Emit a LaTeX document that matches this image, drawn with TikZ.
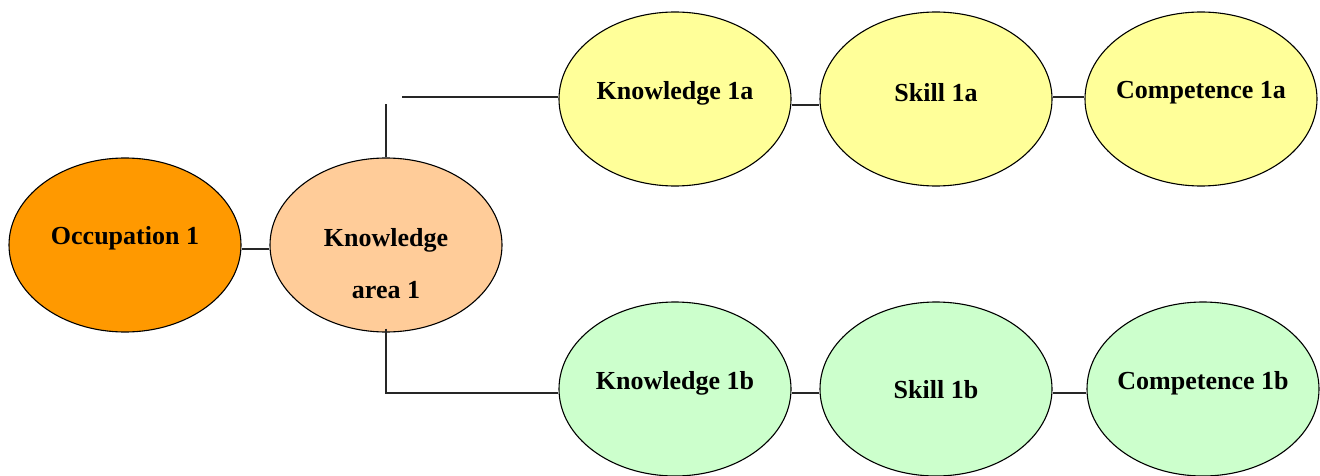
\documentclass[tikz,border=0pt]{standalone}
\usepackage{fontspec}
\setmainfont{Liberation Serif}
\usetikzlibrary{shapes.geometric}
\definecolor{occfill}{HTML}{FF9900}
\definecolor{kafill}{HTML}{FFCC99}
\definecolor{yelfill}{HTML}{FFFF99}
\definecolor{grnfill}{HTML}{CCFFCC}
\tikzset{
  ell/.style={ellipse, draw=black, line width=1.1pt, minimum width=232pt, minimum height=174pt, inner sep=0pt},
  lbl/.style={font=\fontsize{26}{52}\selectfont\bfseries, align=center, inner sep=0pt},
  conn/.style={draw=black!85, line width=1.3pt}
}
\begin{document}
\begin{tikzpicture}[x=1pt,y=-1pt]
\useasboundingbox (0,0) rectangle (1320,476);
\node[ell, fill=occfill, label={[lbl,yshift=7pt]center:Occupation 1}] (occ) at (125,245) {};
\node[ell, fill=kafill, label={[lbl,yshift=-19pt]center:Knowledge\\area 1}] (ka) at (386,245) {};
\node[ell, fill=yelfill, label={[lbl,yshift=6pt]center:Knowledge 1a}] (k1a) at (675,99) {};
\node[ell, fill=yelfill, label={[lbl,yshift=6pt]center:Skill 1a}] (s1a) at (936,99) {};
\node[ell, fill=yelfill, label={[lbl,yshift=6pt]center:Competence 1a}] (c1a) at (1201,99) {};
\node[ell, fill=grnfill, label={[lbl,yshift=6pt]center:Knowledge 1b}] (k1b) at (675,389) {};
\node[ell, fill=grnfill, label={[lbl,yshift=-1pt]center:Skill 1b}] (s1b) at (936,389) {};
\node[ell, fill=grnfill, label={[lbl,yshift=6pt]center:Competence 1b}] (c1b) at (1203,389) {};
\coordinate (up1) at (386,104);
\coordinate (up2) at (402,97);
\coordinate (lo1) at (386,393);
\draw[conn] ([yshift=-4pt]occ.east) -- ([yshift=-4pt]ka.west);
\draw[conn] (ka.north) -- (up1);
\draw[conn] (up2) -- ([yshift=2pt]k1a.west);
\draw[conn] ([yshift=4pt]ka.south) -- (lo1) -- ([yshift=-4pt]k1b.west);
\draw[conn] ([yshift=-6pt]k1a.east) -- ([yshift=-6pt]s1a.west);
\draw[conn] ([yshift=2pt]s1a.east) -- ([yshift=2pt]c1a.west);
\draw[conn] ([yshift=-4pt]k1b.east) -- ([yshift=-4pt]s1b.west);
\draw[conn] ([yshift=-4pt]s1b.east) -- ([yshift=-4pt]c1b.west);
\end{tikzpicture}
\end{document}
